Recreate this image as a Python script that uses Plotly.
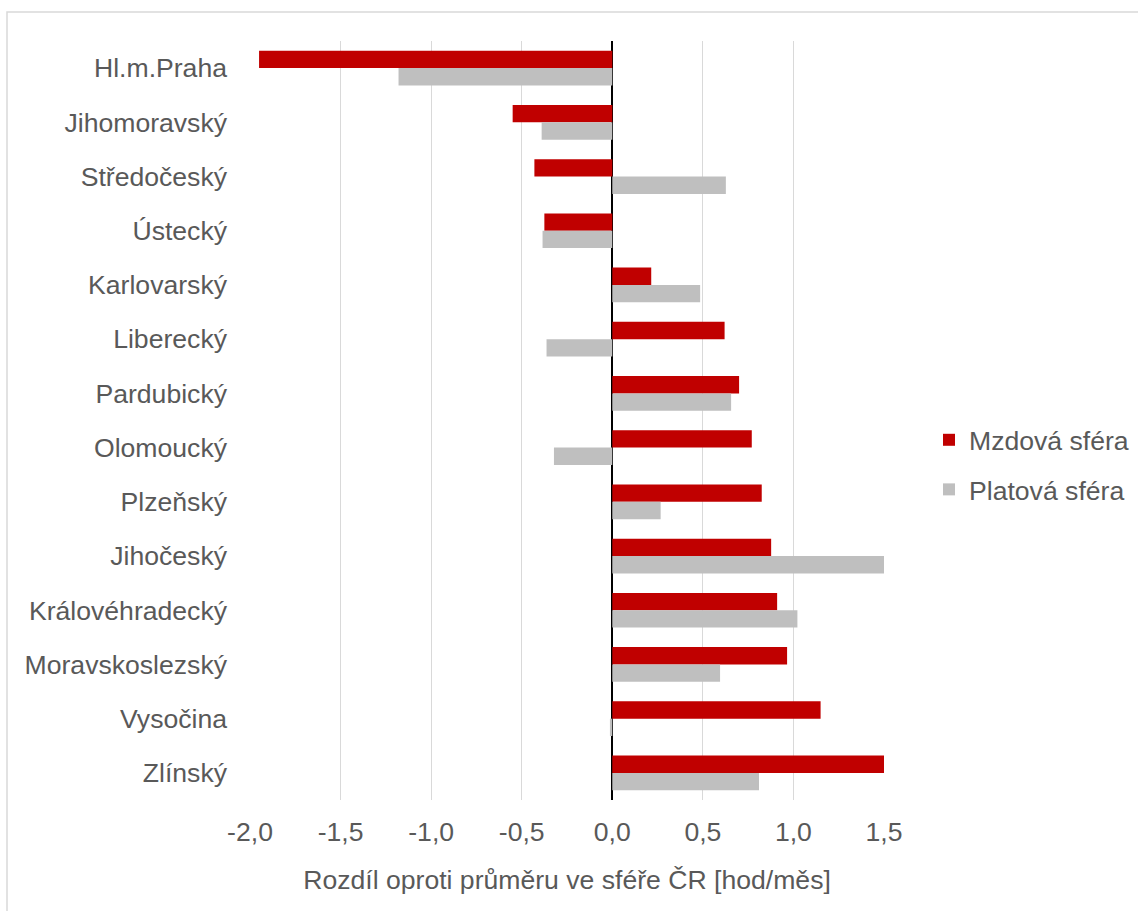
import plotly.graph_objects as go

regions = ["Hl.m.Praha", "Jihomoravský", "Středočeský", "Ústecký", "Karlovarský",
           "Liberecký", "Pardubický", "Olomoucký", "Plzeňský", "Jihočeský",
           "Královéhradecký", "Moravskoslezský", "Vysočina", "Zlínský"]
mzdova = [-1.95, -0.55, -0.43, -0.375, 0.215, 0.62, 0.70, 0.77, 0.825, 0.877,
          0.91, 0.965, 1.15, 1.50]
platova = [-1.18, -0.39, 0.627, -0.385, 0.485, -0.363, 0.656, -0.322, 0.267, 1.51,
           1.022, 0.595, -0.013, 0.81]
x_ticks = [-2.0, -1.5, -1.0, -0.5, 0.0, 0.5, 1.0, 1.5]
x_tick_labels = ["-2,0", "-1,5", "-1,0", "-0,5", "0,0", "0,5", "1,0", "1,5"]

W, H = 1138, 911
ML, MR, MT, MB = 250, 254, 41, 111
font = "Liberation Sans, Arial, sans-serif"
txt = "#595959"
FS = 26.6

fig = go.Figure()
fig.add_trace(go.Bar(y=regions, x=mzdova, orientation="h", name="Mzdová sféra",
                     marker=dict(color="#C00000", line=dict(width=0)), legendgroup="a"))
fig.add_trace(go.Bar(y=regions, x=platova, orientation="h", name="Platová sféra",
                     marker=dict(color="#BFBFBF", line=dict(width=0)), legendgroup="b"))

pw = W - ML - MR
ph = H - MT - MB
fig.update_layout(
    width=W, height=H,
    margin=dict(l=ML, r=MR, t=MT, b=MB, pad=0, autoexpand=False),
    paper_bgcolor="white", plot_bgcolor="white",
    barmode="group", bargap=0.36, bargroupgap=0,
    font=dict(family=font, size=FS, color=txt),
    xaxis=dict(range=[-2.0, 1.5], tickvals=x_ticks, ticktext=x_tick_labels,
               showgrid=True, gridcolor="#D9D9D9", gridwidth=1,
               zeroline=True, zerolinecolor="black", zerolinewidth=2,
               showline=False, ticks="", ticklabelstandoff=13, automargin=False,
               title=dict(text="Rozdíl oproti průměru ve sféře ČR [hod/měs]",
                          font=dict(size=FS, color=txt), standoff=24),
               tickfont=dict(size=FS, color=txt)),
    yaxis=dict(autorange="reversed", showgrid=False, zeroline=False, showline=False,
               ticks="", ticklabelstandoff=22, automargin=False,
               tickfont=dict(size=FS, color=txt)),
    legend=dict(x=(929 - ML) / pw, xanchor="left", y=(800 - 465) / ph, yanchor="middle",
                font=dict(size=FS, color=txt), tracegroupgap=12,
                bgcolor="rgba(0,0,0,0)", itemwidth=30),
    showlegend=True,
)
# outer chart border (light grey frame)
fig.add_shape(type="rect", xref="paper", yref="paper",
              x0=(7 - ML) / pw, x1=(W + 5 - ML) / pw,
              y0=(H - MB - (H + 5)) / ph, y1=(H - MB - 12) / ph,
              line=dict(color="#D9D9D9", width=1.5), fillcolor="rgba(0,0,0,0)", layer="below")

fig.write_html("out.html", config={"displayModeBar": False},
               post_script="document.body.style.margin='0';document.body.style.overflow='hidden';")
